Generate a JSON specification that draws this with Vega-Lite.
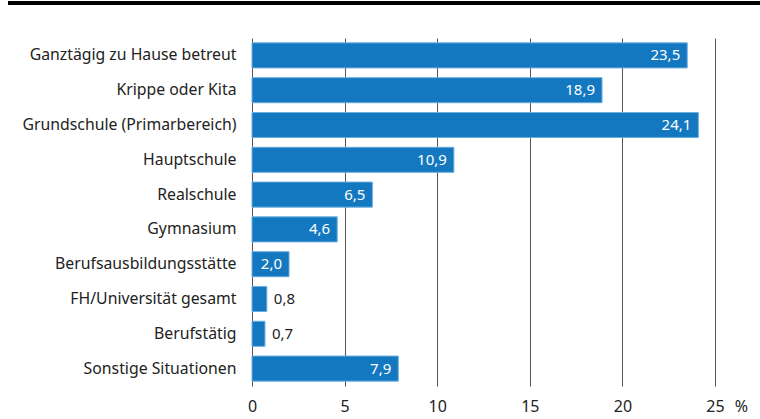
{
  "$schema": "https://vega.github.io/schema/vega-lite/v6.json",
  "width": 463,
  "height": 348,
  "autosize": {"type": "none"},
  "padding": {"left": 252, "top": 38, "right": 45, "bottom": 33},
  "background": "white",
  "config": {
    "view": {"stroke": null},
    "font": "Noto Sans",
    "locale": {"number": {"decimal": ",", "thousands": ".", "grouping": [3], "currency": ["", " €"]}}
  },
  "data": {
    "values": [
      {"kategorie": "Ganztägig zu Hause betreut", "wert": 23.5},
      {"kategorie": "Krippe oder Kita", "wert": 18.9},
      {"kategorie": "Grundschule (Primarbereich)", "wert": 24.1},
      {"kategorie": "Hauptschule", "wert": 10.9},
      {"kategorie": "Realschule", "wert": 6.5},
      {"kategorie": "Gymnasium", "wert": 4.6},
      {"kategorie": "Berufsausbildungsstätte", "wert": 2.0},
      {"kategorie": "FH/Universität gesamt", "wert": 0.8},
      {"kategorie": "Berufstätig", "wert": 0.7},
      {"kategorie": "Sonstige Situationen", "wert": 7.9}
    ]
  },
  "encoding": {
    "y": {
      "field": "kategorie", "type": "nominal", "sort": null,
      "scale": {"paddingInner": 0.28, "paddingOuter": 0.14},
      "axis": {"title": null, "ticks": false, "domain": false, "labelFontSize": 15.8, "labelColor": "#222222", "labelPadding": 16, "labelLimit": 300}
    },
    "x": {
      "field": "wert", "type": "quantitative",
      "scale": {"domain": [0, 25], "nice": false},
      "axis": {
        "values": [0, 5, 10, 15, 20, 25], "grid": true, "gridColor": "#555555", "gridWidth": 1,
        "ticks": false, "domain": false, "labelFlush": false, "labelFontSize": 16, "labelColor": "#222222", "labelPadding": 12,
        "title": "%", "titleFontSize": 16, "titleFontWeight": "normal", "titleColor": "#222222",
        "titleX": 489, "titleY": 25, "titleAlign": "center", "titleBaseline": "alphabetic"
      }
    }
  },
  "layer": [
    {"mark": {"type": "bar", "color": "#1478c0", "stroke": "#6aaee0", "strokeWidth": 1}},
    {
      "transform": [{"filter": "datum.wert >= 1"}],
      "mark": {"type": "text", "align": "right", "dx": -7, "color": "white", "fontSize": 15, "baseline": "middle"},
      "encoding": {"text": {"field": "wert", "type": "quantitative", "format": ".1f"}}
    },
    {
      "transform": [{"filter": "datum.wert < 1"}],
      "mark": {"type": "text", "align": "left", "dx": 7, "color": "#222222", "fontSize": 15, "baseline": "middle"},
      "encoding": {"text": {"field": "wert", "type": "quantitative", "format": ".1f"}}
    },
    {
      "mark": {"type": "rule", "color": "#000000", "strokeWidth": 3},
      "encoding": {"x": {"value": -244}, "x2": {"value": 508}, "y": {"value": -35}}
    }
  ]
}
